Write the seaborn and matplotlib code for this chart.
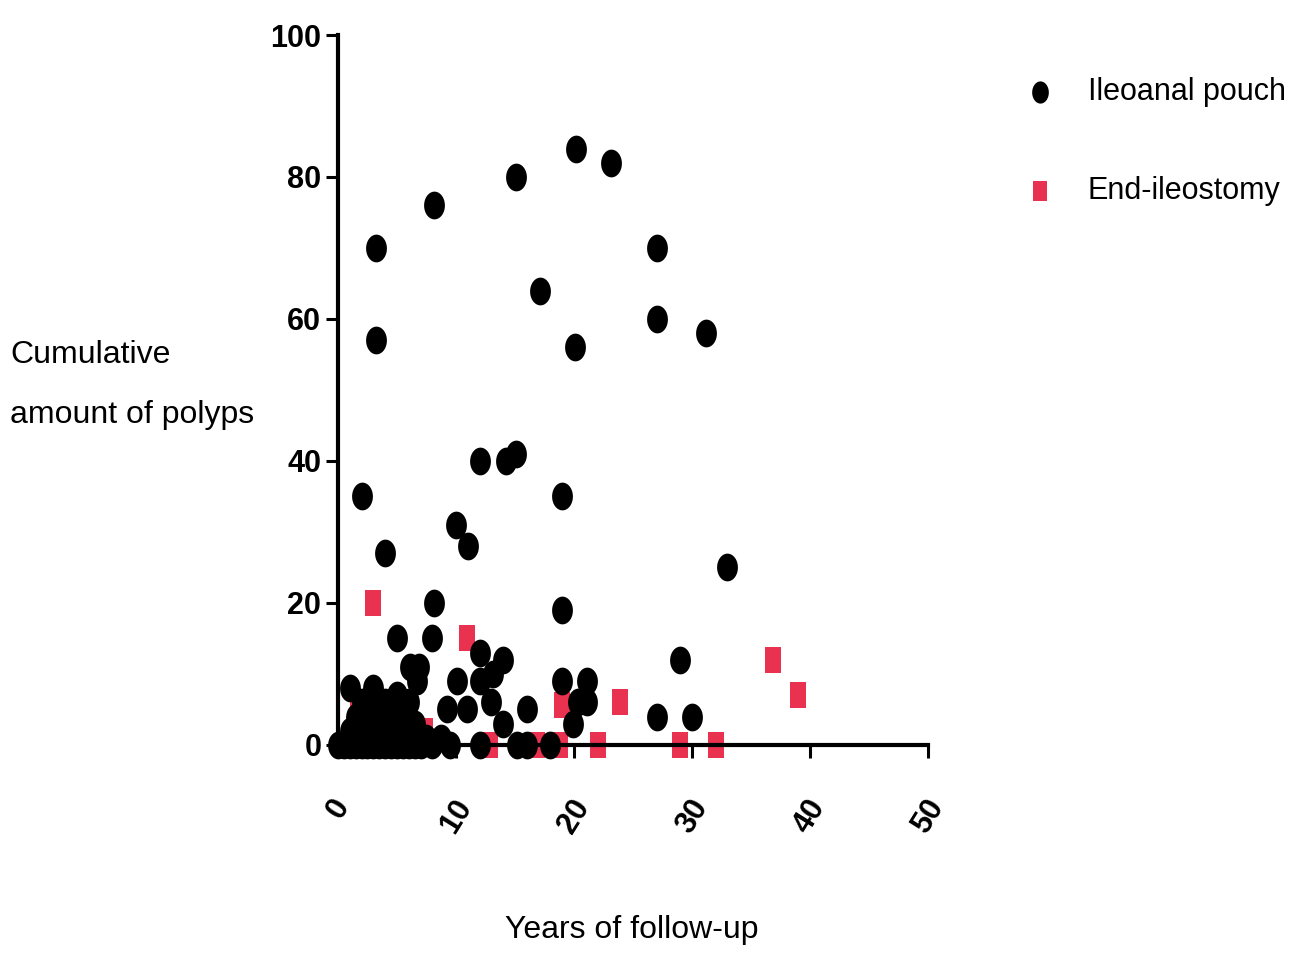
import numpy as np
import pandas as pd
import matplotlib
matplotlib.use('Agg')
import matplotlib.pyplot as plt
from matplotlib.path import Path
import seaborn as sns

sns.set_theme(style='white')
plt.rcParams['font.family'] = ['Liberation Sans', 'DejaVu Sans']

# Ileoanal pouch (black circles)
pouch_years = [3.2, 3.2, 2.0, 4.0, 8.1, 15.1, 20.2, 23.1, 17.1, 20.1, 27.0, 27.0,
               31.2, 33.0, 12.0, 14.2, 15.1, 10.0, 11.0, 19.0, 19.0, 8.1, 8.0,
               5.0, 29.0, 30.0, 27.0, 19.0, 21.1, 20.3, 21.1, 19.9, 16.0, 14.0,
               14.0, 12.0, 13.1, 12.0, 13.0, 6.1, 6.9, 6.7, 1.0, 3.0, 5.0, 10.1,
               9.2, 10.9, 12.0, 15.2, 16.0, 18.0,
               0.0, 0.5, 1.0, 1.5, 2.0, 2.5, 3.0, 3.5, 4.0, 4.5, 5.0, 5.5, 6.0,
               6.5, 7.0, 8.0, 8.7, 9.5,
               1.0, 2.0, 3.0, 4.0, 5.0, 6.0, 7.5,
               1.5, 2.5, 3.5, 4.5, 5.5, 6.5,
               2.0, 3.0, 4.0, 5.0, 6.0]
pouch_polyps = [70, 57, 35, 27, 76, 80, 84, 82, 64, 56, 70, 60,
                58, 25, 40, 40, 41, 31, 28, 35, 19, 20, 15,
                15, 12, 4, 4, 9, 9, 6, 6, 3, 5, 3,
                12, 13, 10, 9, 6, 11, 11, 9, 8, 8, 7, 9,
                5, 5, 0, 0, 0, 0,
                0, 0, 0, 0, 0, 0, 0, 0, 0, 0, 0, 0, 0,
                0, 0, 0, 1, 0,
                2, 2, 2, 2, 2, 2, 1,
                4, 4, 4, 3, 4, 3,
                6, 5, 6, 5, 6]

# End-ileostomy (red squares)
ileo_years = [3.0, 10.9, 19.0, 23.9, 36.9, 39.0, 12.9, 16.9, 18.8, 22.0,
              29.0, 32.0, 1.7, 7.4]
ileo_polyps = [20, 15, 5.6, 6, 12, 7, 0, 0, 0, 0, 0, 0, 6, 2]

pouch = pd.DataFrame({'years': pouch_years, 'polyps': pouch_polyps})
ileo = pd.DataFrame({'years': ileo_years, 'polyps': ileo_polyps})

# slightly tall markers, as in the source image
t = np.linspace(0, 2 * np.pi, 40)
ellipse = Path(np.column_stack([0.75 * np.cos(t), np.sin(t)]), closed=True)
rect = Path([(-0.65, -1), (0.65, -1), (0.65, 1), (-0.65, 1), (-0.65, -1)],
            closed=True)

fig = plt.figure(figsize=(13.03, 9.67), dpi=100)
ax = fig.add_axes([0.2594, 0.2296, 0.4528, 0.7342])

sns.scatterplot(data=pouch, x='years', y='polyps', ax=ax, marker=ellipse,
                s=400, color='black', linewidth=0, clip_on=False,
                label='Ileoanal pouch', legend=False, zorder=3)
sns.scatterplot(data=ileo, x='years', y='polyps', ax=ax, marker=rect,
                s=340, color='#e8324f', linewidth=0, clip_on=False,
                label='End-ileostomy', legend=False, zorder=2)

ax.set_xlim(0, 50)
ax.set_ylim(0, 100)
ax.set_xticks([0, 10, 20, 30, 40, 50])
ax.set_yticks([0, 20, 40, 60, 80, 100])
sns.despine(ax=ax)
for side in ['left', 'bottom']:
    ax.spines[side].set_linewidth(3)
    ax.spines[side].set_color('black')
ax.tick_params(axis='both', direction='out', length=9, width=2.2,
               color='black', labelcolor='black', bottom=True, left=True)
ax.tick_params(axis='y', pad=3, labelsize=22)
ax.tick_params(axis='x', pad=26, labelsize=22, labelrotation=58)
for lab in ax.get_yticklabels() + ax.get_xticklabels():
    lab.set_fontweight('bold')

ax.set_xlabel('Years of follow-up', fontsize=23, va='center', color='black')
ax.xaxis.set_label_coords(0.498, -0.26)
ax.set_ylabel('Cumulative\namount of polyps', fontsize=23, rotation=0,
              ha='left', va='center', linespacing=2.3, color='black')
ax.yaxis.set_label_coords(-0.556, 0.507)

handles, labels = ax.get_legend_handles_labels()
leg = fig.legend(handles, labels, loc='upper left',
                 bbox_to_anchor=(0.775, 0.936), frameon=False, fontsize=22,
                 handlelength=1.0, handletextpad=1.05, labelspacing=2.25,
                 borderpad=0, markerscale=0.8)
for txt in leg.get_texts():
    txt.set_color('black')

fig.savefig('out.png', dpi=100)
